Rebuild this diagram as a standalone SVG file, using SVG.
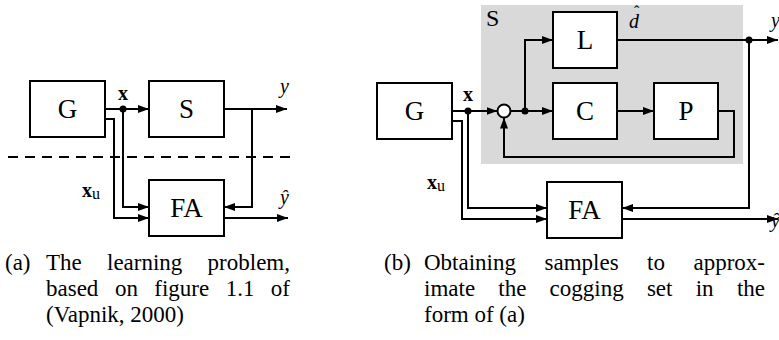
<svg xmlns="http://www.w3.org/2000/svg" width="779" height="340" viewBox="0 0 779 340">
<style>
.box{fill:#fff;stroke:#000;stroke-width:2}
.w{fill:none;stroke:#000;stroke-width:2}
.lbl{font-family:"Liberation Serif",serif;font-size:27px;text-anchor:middle}
.bx{font-family:"Liberation Serif",serif;font-size:20px;font-weight:bold}
.it{font-family:"Liberation Serif",serif;font-size:20px;font-style:italic}
.sub{font-family:"Liberation Serif",serif;font-size:16px}
.cap{font-family:"Liberation Serif",serif;font-size:23px}
</style>
<defs>
<marker id="ah" markerWidth="11" markerHeight="8" refX="11" refY="4" orient="auto" markerUnits="userSpaceOnUse"><path d="M0,0 L11,4 L0,8 z" fill="#000"/></marker>
</defs>
<rect x="481" y="5" width="262" height="159" fill="#d9d9d9"/>
<g id="connectors">
<path class="w" d="M105,109 H149" marker-end="url(#ah)"/>
<path class="w" d="M224,109 H287" marker-end="url(#ah)"/>
<path class="w" d="M252,109 V207 H224" marker-end="url(#ah)"/>
<path class="w" d="M123,109 V207 H149" marker-end="url(#ah)"/>
<path class="w" d="M105,119 H114 V218 H149" marker-end="url(#ah)"/>
<path class="w" d="M224,218 H288" marker-end="url(#ah)"/>
<path d="M8,157 H290" stroke="#000" stroke-width="1.8" stroke-dasharray="10,7" fill="none"/>
<circle cx="123" cy="109" r="3.5"/>
<path class="w" d="M452,111 H497.5" marker-end="url(#ah)"/>
<path class="w" d="M510.5,111 H553" marker-end="url(#ah)"/>
<path class="w" d="M525,111 V40 H553" marker-end="url(#ah)"/>
<path class="w" d="M617,40 H778" marker-end="url(#ah)"/>
<path class="w" d="M617,111 H654" marker-end="url(#ah)"/>
<path class="w" d="M718,111 H734 V157 H504 V117.5" marker-end="url(#ah)"/>
<path class="w" d="M749,40 V208 H622" marker-end="url(#ah)"/>
<path class="w" d="M468,111 V208 H547" marker-end="url(#ah)"/>
<path class="w" d="M452,121 H462 V219 H547" marker-end="url(#ah)"/>
<path class="w" d="M622,219 H778" marker-end="url(#ah)"/>
<circle cx="504" cy="111" r="6.5" fill="#fff" stroke="#000" stroke-width="2"/>
<circle cx="468" cy="111" r="3.5"/>
<circle cx="525" cy="111" r="3.5"/>
<circle cx="749" cy="40" r="3.5"/>
</g>
<g id="a-G"><rect class="box" x="30" y="81" width="75" height="56"/><text class="lbl" x="67.5" y="118">G</text></g>
<g id="a-S"><rect class="box" x="149" y="81" width="75" height="56"/><text class="lbl" x="186.5" y="118">S</text></g>
<g id="a-FA"><rect class="box" x="149" y="180" width="75" height="56"/><text class="lbl" x="186.5" y="217">FA</text></g>
<g id="b-G"><rect class="box" x="377" y="83" width="75" height="56"/><text class="lbl" x="414.5" y="120">G</text></g>
<g id="b-L"><rect class="box" x="553" y="12" width="64" height="56"/><text class="lbl" x="585" y="49">L</text></g>
<g id="b-C"><rect class="box" x="553" y="83" width="64" height="56"/><text class="lbl" x="585" y="120">C</text></g>
<g id="b-P"><rect class="box" x="654" y="83" width="64" height="56"/><text class="lbl" x="686" y="120">P</text></g>
<g id="b-FA"><rect class="box" x="547" y="182" width="75" height="56"/><text class="lbl" x="584.5" y="219">FA</text></g>
<g id="labels">
<text class="bx" x="118" y="100">x</text>
<text class="it" x="280" y="93">y</text>
<text x="82" y="197"><tspan class="bx">x</tspan><tspan class="sub" dy="2">u</tspan></text>
<text class="it" x="280" y="204">ŷ</text>
<text font-family="Liberation Serif,serif" font-size="24" x="486" y="26">S</text>
<text class="bx" x="463" y="101">x</text>
<text class="it" x="629" y="28">d</text>
<text font-family="Liberation Serif,serif" font-size="16" x="634" y="17">ˆ</text>
<text class="it" x="771" y="27">y</text>
<text x="427" y="189"><tspan class="bx">x</tspan><tspan class="sub" dy="2">u</tspan></text>
<text class="it" x="771" y="227">ŷ</text>
</g>
<g id="captions" class="cap">
<text y="270"><tspan x="5">(a)</tspan><tspan x="46">The</tspan><tspan x="107">learning</tspan><tspan x="207.6">problem,</tspan></text>
<text y="296"><tspan x="46">based</tspan><tspan x="114.9">on</tspan><tspan x="154.3">figure</tspan><tspan x="225.7">1.1</tspan><tspan x="270.8">of</tspan></text>
<text y="322"><tspan x="46">(Vapnik, 2000)</tspan></text>
<text y="270"><tspan x="384">(b)</tspan><tspan x="424">Obtaining</tspan><tspan x="544.5">samples</tspan><tspan x="647.1">to</tspan><tspan x="693.5">approx-</tspan></text>
<text y="296"><tspan x="424">imate</tspan><tspan x="498.3">the</tspan><tspan x="549.6">cogging</tspan><tspan x="646.9">set</tspan><tspan x="695.7">in</tspan><tspan x="736.9">the</tspan></text>
<text y="322"><tspan x="424">form of (a)</tspan></text>
</g>
</svg>
